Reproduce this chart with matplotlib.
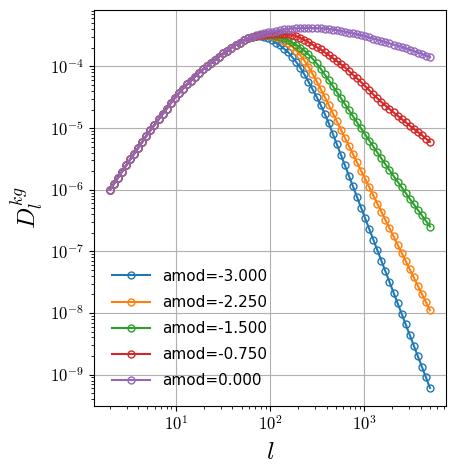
import numpy as np
import matplotlib
matplotlib.use("Agg")
import matplotlib.pyplot as plt
from matplotlib.ticker import FuncFormatter, NullFormatter

plt.rcParams['mathtext.fontset'] = 'cm'

# multipoles, log spaced from 2 to 5000
ell = np.logspace(np.log10(2), np.log10(5000), 80)

# log10 D_l; all curves share the low-l rise
rise = [-6.000, -5.902, -5.803, -5.705, -5.606, -5.509, -5.414, -5.318, -5.222, -5.127,
        -5.036, -4.948, -4.860, -4.772, -4.684, -4.598, -4.512, -4.436, -4.363, -4.293,
        -4.229, -4.164, -4.104, -4.044, -3.990, -3.939, -3.888, -3.839, -3.790, -3.742,
        -3.695, -3.653, -3.612, -3.576]

tail_m300 = [-3.546, -3.520, -3.508, -3.510, -3.520, -3.545, -3.570, -3.615, -3.658, -3.715,
             -3.770, -3.850, -3.930, -4.020, -4.130, -4.245, -4.370, -4.490, -4.625, -4.765,
             -4.920, -5.090, -5.260, -5.432, -5.604, -5.776, -5.948, -6.120, -6.292, -6.464,
             -6.636, -6.808, -6.980, -7.152, -7.324, -7.496, -7.668, -7.840, -8.012, -8.184,
             -8.356, -8.528, -8.700, -8.872, -9.044, -9.216]
tail_m225 = [-3.546, -3.520, -3.505, -3.497, -3.495, -3.497, -3.505, -3.523, -3.545, -3.585,
             -3.624, -3.680, -3.742, -3.818, -3.905, -4.002, -4.120, -4.236, -4.364, -4.493,
             -4.624, -4.758, -4.891, -5.024, -5.158, -5.291, -5.424, -5.558, -5.691, -5.824,
             -5.957, -6.091, -6.224, -6.357, -6.491, -6.624, -6.757, -6.891, -7.024, -7.157,
             -7.290, -7.424, -7.557, -7.690, -7.824, -7.957]
tail_m150 = [-3.546, -3.520, -3.505, -3.497, -3.494, -3.494, -3.498, -3.508, -3.522, -3.545,
             -3.575, -3.610, -3.650, -3.695, -3.745, -3.803, -3.875, -3.950, -4.035, -4.130,
             -4.222, -4.316, -4.413, -4.512, -4.611, -4.710, -4.809, -4.908, -5.006, -5.105,
             -5.202, -5.298, -5.395, -5.492, -5.587, -5.682, -5.776, -5.868, -5.961, -6.053,
             -6.146, -6.237, -6.327, -6.417, -6.507, -6.598]
tail_m075 = [-3.546, -3.520, -3.503, -3.492, -3.484, -3.478, -3.474, -3.471, -3.470, -3.473,
             -3.479, -3.490, -3.510, -3.538, -3.570, -3.607, -3.646, -3.686, -3.724, -3.771,
             -3.816, -3.864, -3.912, -3.964, -4.015, -4.075, -4.135, -4.195, -4.255, -4.318,
             -4.386, -4.455, -4.516, -4.576, -4.634, -4.690, -4.745, -4.800, -4.853, -4.906,
             -4.960, -5.013, -5.064, -5.116, -5.170, -5.224]
tail_000 = [-3.546, -3.517, -3.498, -3.479, -3.463, -3.448, -3.434, -3.421, -3.408, -3.400,
            -3.391, -3.386, -3.382, -3.379, -3.377, -3.375, -3.376, -3.378, -3.382, -3.388,
            -3.394, -3.403, -3.413, -3.426, -3.439, -3.452, -3.465, -3.479, -3.494, -3.510,
            -3.529, -3.549, -3.568, -3.587, -3.607, -3.626, -3.645, -3.665, -3.684, -3.705,
            -3.727, -3.750, -3.774, -3.798, -3.823, -3.850]

amods = [-3.0, -2.25, -1.5, -0.75, 0.0]
tails = [tail_m300, tail_m225, tail_m150, tail_m075, tail_000]

fig = plt.figure(figsize=(4.56, 4.72), dpi=100)
ax = fig.add_axes([0.206, 0.140, 0.772, 0.839])

for a, tail in zip(amods, tails):
    D = 10 ** np.array(rise + tail)
    ax.plot(ell, D, marker='o', markersize=5, markerfacecolor='none',
            label='amod=%.3f' % a)

ax.set_xscale('log')
ax.set_yscale('log')

# power-of-ten labels in computer modern, no minor labels
pow10 = FuncFormatter(lambda v, pos: r'$10^{%d}$' % int(round(np.log10(v))))
for axis in (ax.xaxis, ax.yaxis):
    axis.set_major_formatter(pow10)
    axis.set_minor_formatter(NullFormatter())

ax.grid(True, which='major')
ax.tick_params(labelsize=12)
ax.set_xlabel(r'$l$', fontsize=18)
ax.set_ylabel(r'$D_l^{kg}$', fontsize=18)
ax.legend(loc='lower left', frameon=False, fontsize=11, handlelength=2.5,
          labelspacing=0.73, borderaxespad=0.75)

fig.savefig('out.png', dpi=100)
